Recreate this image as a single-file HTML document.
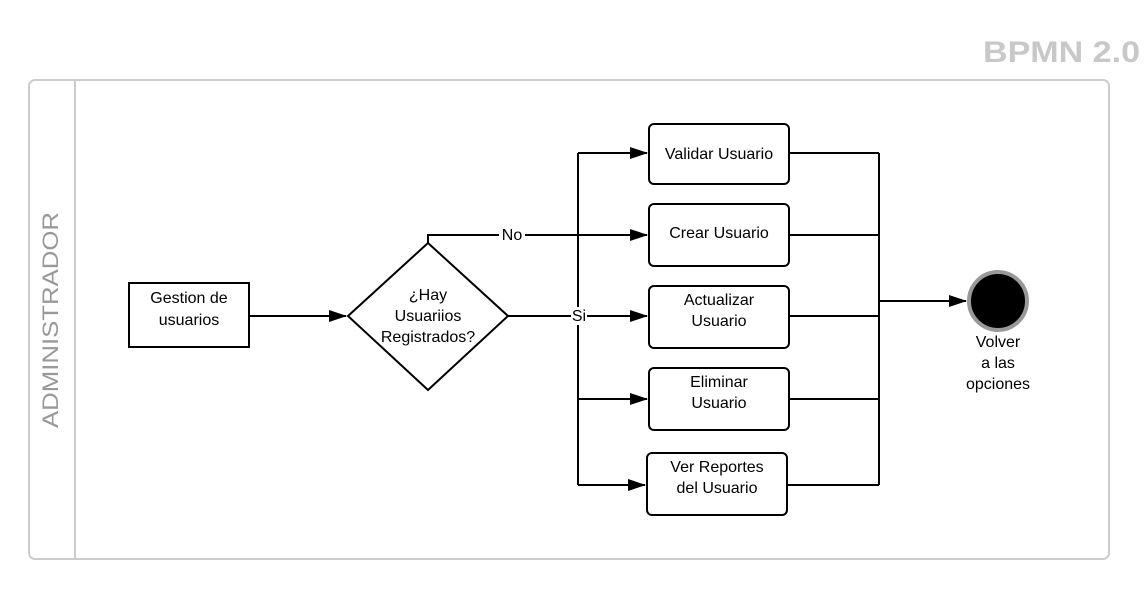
<!DOCTYPE html>
<html><head><meta charset="utf-8"><style>body{margin:0;background:#fff}svg{display:block}text{font-family:"Liberation Sans",sans-serif}</style></head><body>
<svg width="1145" height="604" viewBox="0 0 1145 604">
<defs><marker id="a" markerWidth="18" markerHeight="12" refX="17" refY="6" orient="auto" markerUnits="userSpaceOnUse"><path d="M0,0 L18,6 L0,12 Z" fill="#000"/></marker></defs>
<text x="983" y="62" font-size="30" font-weight="bold" fill="#c8c8c8" textLength="157" lengthAdjust="spacingAndGlyphs">BPMN 2.0</text>
<rect x="29" y="80" width="1080" height="479" rx="6" fill="#fff" stroke="#ccc" stroke-width="2"/>
<line x1="75" y1="80" x2="75" y2="559" stroke="#ccc" stroke-width="2"/>
<text transform="translate(58,428) rotate(-90)" font-size="22" fill="#999" textLength="216" lengthAdjust="spacingAndGlyphs">ADMINISTRADOR</text>
<g stroke="#000" stroke-width="2" fill="none">
<path d="M249,316 H346" marker-end="url(#a)"/>
<path d="M428,243 V235 H647" marker-end="url(#a)"/>
<path d="M508,316 H647" marker-end="url(#a)"/>
<path d="M578,153 V485"/>
<path d="M578,153 H647" marker-end="url(#a)"/>
<path d="M578,399 H647" marker-end="url(#a)"/>
<path d="M578,485 H645" marker-end="url(#a)"/>
<path d="M789,153 H879 M789,235 H879 M789,316 H879 M789,399 H879 M787,485 H879 M879,153 V485"/>
<path d="M879,301 H966" marker-end="url(#a)"/>
</g>
<rect x="499" y="226" width="26" height="16" fill="#fff"/>
<text x="512" y="240" text-anchor="middle" font-size="16">No</text>
<rect x="571" y="307" width="16" height="18" fill="#fff"/>
<text x="579" y="321" text-anchor="middle" font-size="16">Si</text>
<rect x="129" y="283" width="120" height="64" fill="#fff" stroke="#000" stroke-width="2"/>
<text x="189" y="303" text-anchor="middle" font-size="16">Gestion de</text>
<text x="189" y="325" text-anchor="middle" font-size="16">usuarios</text>
<path d="M348,316 L428,243 L508,316 L428,390 Z" fill="#fff" stroke="#000" stroke-width="2"/>
<text x="428" y="300" text-anchor="middle" font-size="16">¿Hay</text>
<text x="428" y="321" text-anchor="middle" font-size="16">Usuariios</text>
<text x="428" y="342" text-anchor="middle" font-size="16">Registrados?</text>
<g fill="#fff" stroke="#000" stroke-width="2">
<rect x="649" y="124" width="140" height="60" rx="5"/>
<rect x="649" y="204" width="140" height="62" rx="5"/>
<rect x="649" y="286" width="140" height="62" rx="5"/>
<rect x="649" y="368" width="140" height="62" rx="5"/>
<rect x="647" y="453" width="140" height="62" rx="5"/>
</g>
<g font-size="16" text-anchor="middle">
<text x="719" y="159">Validar Usuario</text>
<text x="719" y="238">Crear Usuario</text>
<text x="719" y="305">Actualizar</text><text x="719" y="326">Usuario</text>
<text x="719" y="387">Eliminar</text><text x="719" y="408">Usuario</text>
<text x="717" y="472">Ver Reportes</text><text x="717" y="493">del Usuario</text>
</g>
<circle cx="998" cy="301" r="29" fill="#000" stroke="#999" stroke-width="4"/>
<g font-size="16" text-anchor="middle">
<text x="998" y="347">Volver</text><text x="998" y="368">a las</text><text x="998" y="389">opciones</text>
</g>
</svg>
</body></html>
